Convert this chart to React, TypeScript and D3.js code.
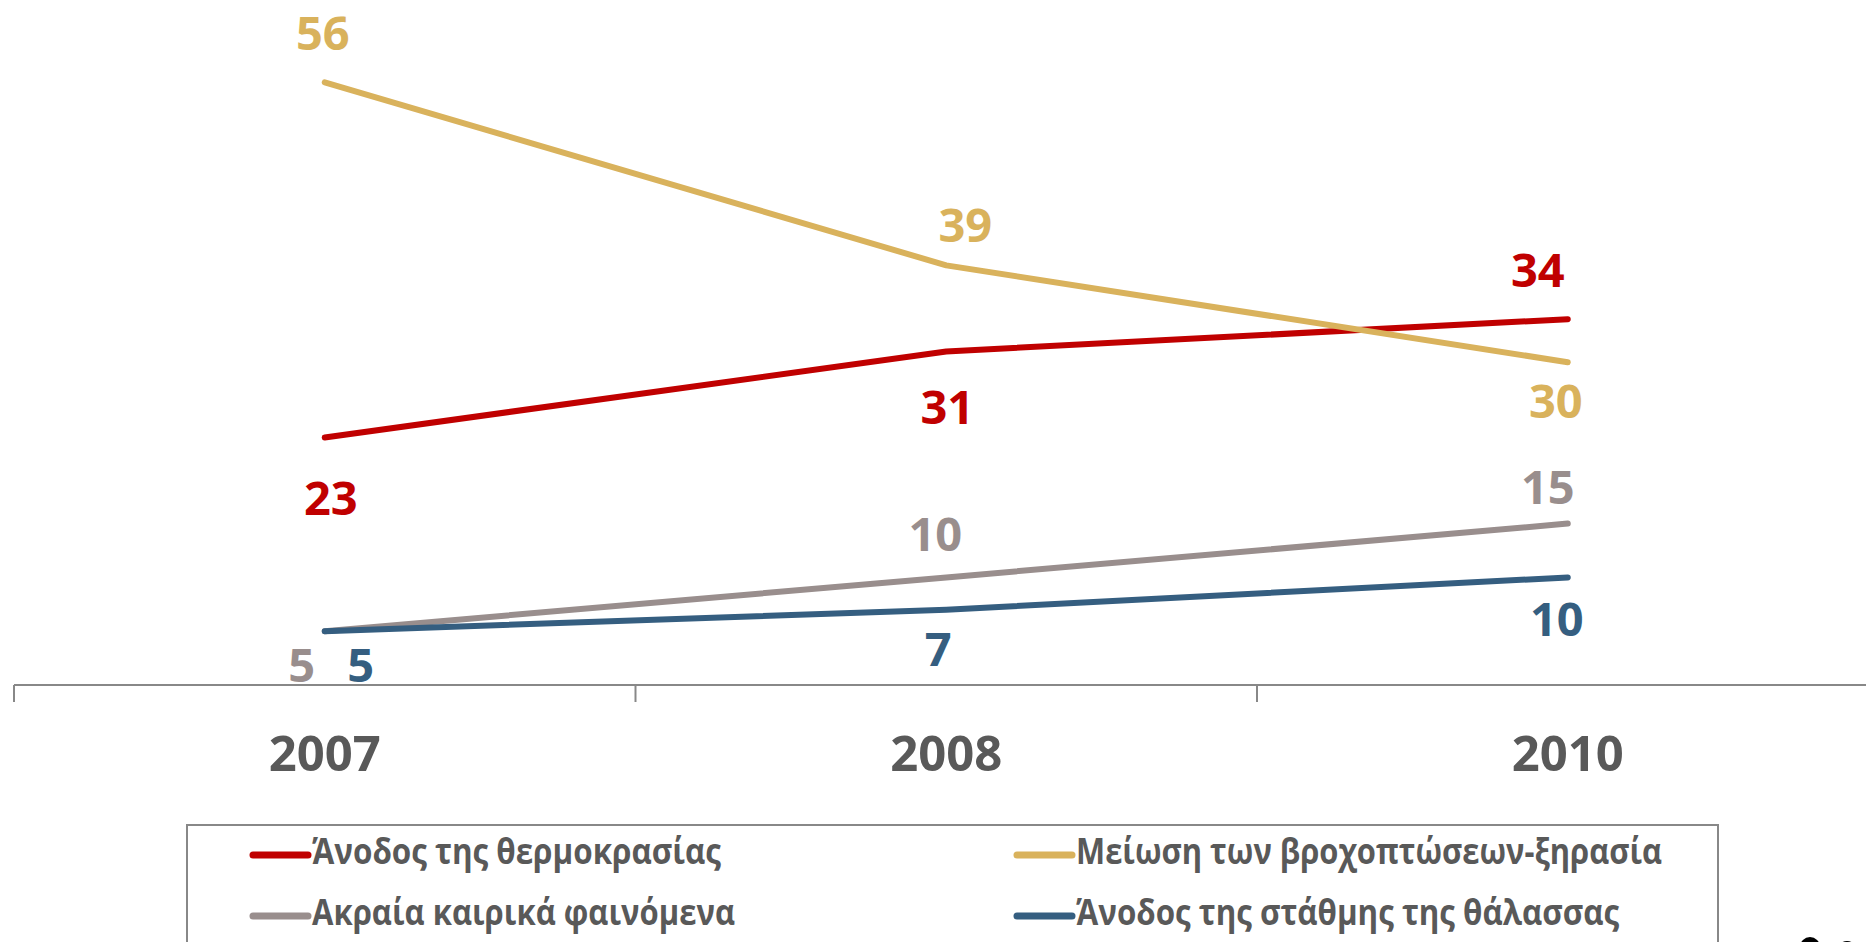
import React from "react";
import * as d3 from "d3";

const categories = ["2007", "2008", "2010"];
const seriesNames = [
  "Άνοδος της θερμοκρασίας",
  "Μείωση των βροχοπτώσεων-ξηρασία",
  "Ακραία καιρικά φαινόμενα",
  "Άνοδος της στάθμης της θάλασσας",
];
const temperature = [23, 31, 34];
const drought = [56, 39, 30];
const extremeWeather = [5, 10, 15];
const seaLevel = [5, 7, 10];
const seriesColors = ["#C00000", "#D9B25C", "#998E8D", "#355E80"];

// label placement relative to the point (dx, baseline dy)
const labelOffsets: [number, number][][] = [
  [[6, 77], [1, 73], [-30, -32]],
  [[-2, -32], [19, -23], [-12, 56]],
  [[-23, 51], [-11, -26], [-20, -20]],
  [[36, 51], [-8, 56], [-11, 59]],
];
const legendTextWidths = [409, 586, 423, 543];

const W = 1866;
const H = 942;
const FONT = "'Open Sans', 'Noto Sans', sans-serif";

export default function App() {
  const seriesValues = [temperature, drought, extremeWeather, seaLevel];
  const x = d3.scaleBand<string>().domain(categories).range([14, 14 + 3 * 621.5]).paddingInner(0).paddingOuter(0);
  const y = d3.scaleLinear().domain([0, 60]).range([685, 685 - 60 * 10.76]);
  const cx = (c: string) => (x(c) as number) + x.bandwidth() / 2;
  const line = d3
    .line<number>()
    .x((_, i) => cx(categories[i]))
    .y((v) => y(v));

  const axisY = y(0);
  const tickXs = [...categories.map((c) => x(c) as number), (x(categories[2]) as number) + x.bandwidth()];

  const legendCols = [253, 1017];
  const legendRows = [855, 916];

  return (
    <svg width={W} height={H} style={{ position: "absolute", left: 0, top: 0, background: "#fff" }}>
      {/* axis */}
      <line x1={14} x2={W} y1={axisY} y2={axisY} stroke="#888" strokeWidth={2} />
      {tickXs.map((t, i) => (
        <line key={i} x1={t} x2={t} y1={axisY} y2={axisY + 17} stroke="#888" strokeWidth={2} />
      ))}
      {categories.map((c) => (
        <text key={c} x={cx(c)} y={771} textAnchor="middle" fontFamily={FONT} fontWeight={700} fontSize={49} fill="#595959">
          {c}
        </text>
      ))}
      {/* lines */}
      {seriesValues.map((vals, si) => (
        <path key={si} d={line(vals) || ""} fill="none" stroke={seriesColors[si]} strokeWidth={6} strokeLinecap="round" strokeLinejoin="round" />
      ))}
      {/* labels */}
      {seriesValues.map((vals, si) =>
        vals.map((v, i) => (
          <text
            key={`${si}-${i}`}
            x={cx(categories[i]) + labelOffsets[si][i][0]}
            y={y(v) + labelOffsets[si][i][1]}
            textAnchor="middle"
            fontFamily={FONT}
            fontWeight={700}
            fontSize={47}
            fill={seriesColors[si]}
          >
            {v}
          </text>
        ))
      )}
      {/* legend */}
      <rect x={187} y={825} width={1531} height={140} fill="none" stroke="#888" strokeWidth={2} />
      {seriesNames.map((n, i) => {
        const lx = legendCols[i % 2];
        const ly = legendRows[Math.floor(i / 2)];
        return (
          <g key={n}>
            <line x1={lx} x2={lx + 55} y1={ly} y2={ly} stroke={seriesColors[i]} strokeWidth={7} strokeLinecap="round" />
            <text
              x={lx + 59}
              y={ly + 9}
              fontFamily={FONT}
              fontWeight={700}
              fontSize={36}
              fill="#595959"
              textLength={legendTextWidths[i]}
              lengthAdjust="spacingAndGlyphs"
            >
              {n}
            </text>
          </g>
        );
      })}
      {/* partial marks at bottom right */}
      <circle cx={1810} cy={947} r={10} fill="#000" />
      <circle cx={1847} cy={951} r={10} fill="#000" />
    </svg>
  );
}
